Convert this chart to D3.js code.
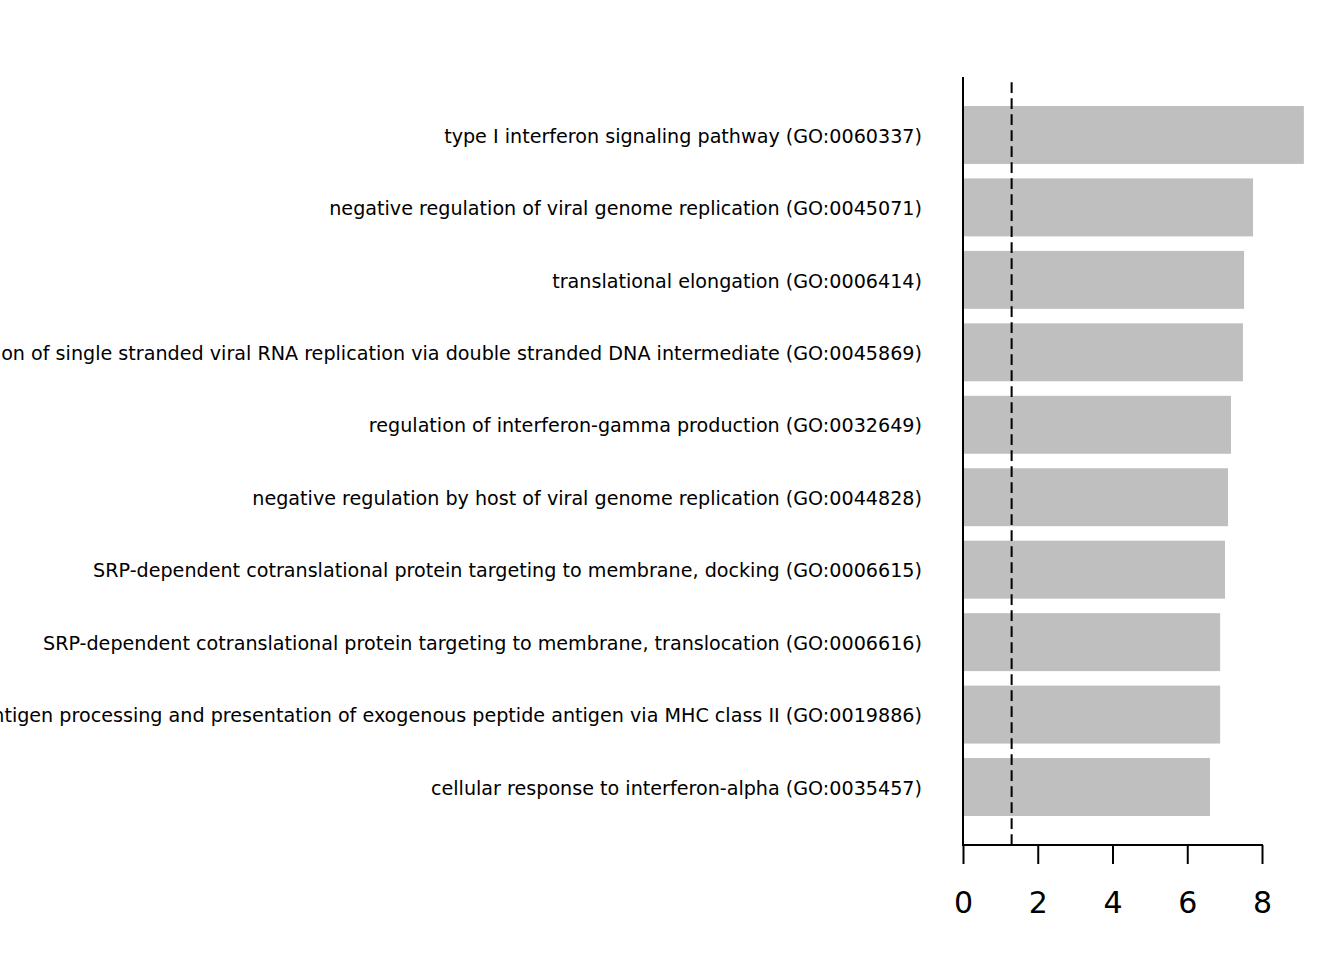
<!DOCTYPE html>
<html>
<head>
<meta charset="utf-8">
<script src="https://cdn.jsdelivr.net/npm/d3@7"></script>
<style>
  html, body { margin: 0; padding: 0; background: #fff; }
  svg { display: block; }
</style>
</head>
<body>
<svg id="chart" width="1344" height="960"></svg>
<script>
const categories = [
  "type I interferon signaling pathway (GO:0060337)",
  "negative regulation of viral genome replication (GO:0045071)",
  "translational elongation (GO:0006414)",
  "negative regulation of single stranded viral RNA replication via double stranded DNA intermediate (GO:0045869)",
  "regulation of interferon-gamma production (GO:0032649)",
  "negative regulation by host of viral genome replication (GO:0044828)",
  "SRP-dependent cotranslational protein targeting to membrane, docking (GO:0006615)",
  "SRP-dependent cotranslational protein targeting to membrane, translocation (GO:0006616)",
  "antigen processing and presentation of exogenous peptide antigen via MHC class II (GO:0019886)",
  "cellular response to interferon-alpha (GO:0035457)"
];
const values = [9.12, 7.76, 7.52, 7.49, 7.17, 7.09, 7.01, 6.88, 6.88, 6.61];
const xTicks = [0, 2, 4, 6, 8];
const threshold = 1.301; // -log10(0.05)

(function () {
const svg = d3.select("#chart");
const mLeft = 963, mRight = 1262, mTop = 77, mBottom = 845;

const x = d3.scaleLinear().domain([0, 8]).range([mLeft, mRight]);
const y = d3.scaleBand().domain(categories).range([mTop, mBottom])
  .paddingInner(0.2).paddingOuter(0.4);

// bars
svg.append("g").selectAll("rect").data(categories).join("rect")
  .attr("x", x(0))
  .attr("y", d => y(d))
  .attr("width", (d, i) => x(values[i]) - x(0))
  .attr("height", y.bandwidth())
  .attr("fill", "#bfbfbf");

// threshold dashed line (drawn bottom to top)
svg.append("line")
  .attr("x1", x(threshold)).attr("x2", x(threshold))
  .attr("y1", mBottom).attr("y2", mTop)
  .attr("stroke", "#000").attr("stroke-width", 2)
  .attr("stroke-dasharray", "10.7,5.3");

// y axis (spine + labels, no ticks)
const yAxis = d3.axisLeft(y).tickSize(0).tickPadding(41);
const gy = svg.append("g").attr("transform", `translate(${mLeft},0)`).call(yAxis);
gy.select(".domain").attr("stroke", "#000").attr("stroke-width", 2)
  .attr("d", `M0,${mTop}V${mBottom}`);
gy.selectAll("text")
  .attr("font-family", "DejaVu Sans")
  .attr("font-size", 19.15)
  .attr("dy", "0.40em")
  .attr("fill", "#000");

// x axis
const xAxis = d3.axisBottom(x).tickValues(xTicks).tickSize(19).tickPadding(28)
  .tickFormat(d3.format("d"));
const gx = svg.append("g").attr("transform", `translate(0,${mBottom})`).call(xAxis);
gx.select(".domain").attr("stroke", "#000").attr("stroke-width", 2)
  .attr("d", `M${mLeft - 1},0H${mRight + 1}`);
gx.selectAll(".tick line").attr("stroke", "#000").attr("stroke-width", 2);
gx.selectAll("text")
  .attr("font-family", "DejaVu Sans")
  .attr("font-size", 30)
  .attr("fill", "#000");
})();
</script>
</body>
</html>
